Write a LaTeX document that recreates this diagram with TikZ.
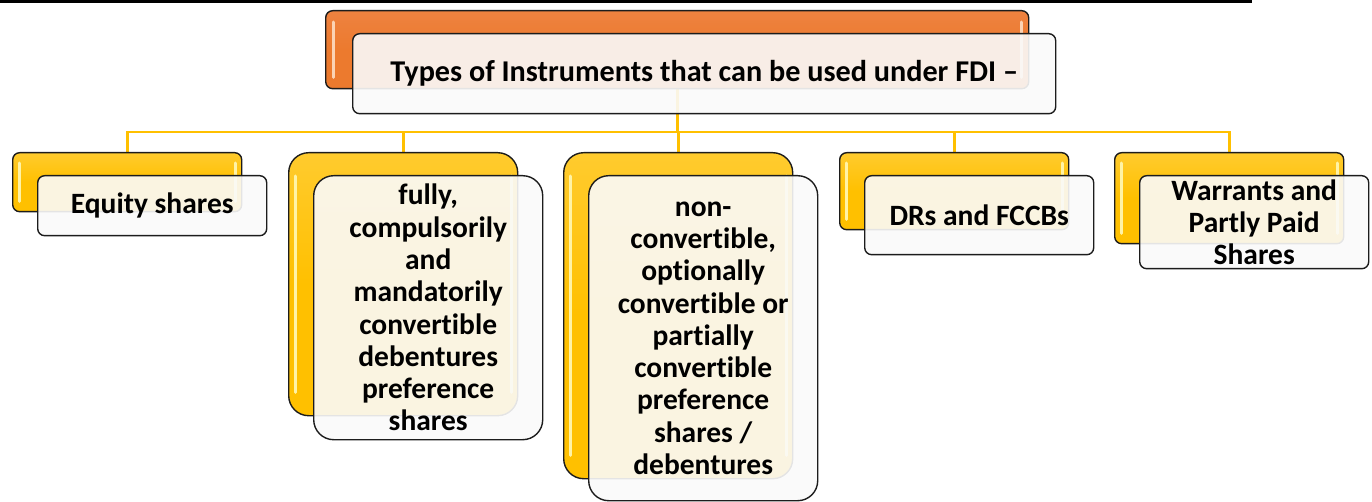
\documentclass[tikz,border=0pt]{standalone}
\usepackage{fontspec}
\setmainfont[Ligatures=NoCommon]{Carlito}
\definecolor{gold}{HTML}{FFC000}
\definecolor{goldtop}{HTML}{FFCB2E}
\definecolor{goldhl}{HTML}{FFF3A6}
\definecolor{orng}{HTML}{EC7A2E}
\definecolor{orngtop}{HTML}{EE8240}
\definecolor{ornghl}{HTML}{FBD3B4}
\definecolor{frontfill}{HTML}{FAFAFA}
\definecolor{edge}{HTML}{1C1C1C}
\pgfdeclarelayer{bg}
\pgfsetlayers{bg,main}
\begin{document}
\begin{tikzpicture}[x=1pt,y=-1pt,
  conn/.style={draw=gold, line width=2.6pt},
  boxbase/.style={draw=edge, line width=1.4pt, anchor=north west, inner sep=0pt, minimum width=229pt},
  yback/.style={boxbase, top color=goldtop, bottom color=gold, middle color=gold},
  oback/.style={boxbase, top color=orngtop, bottom color=orng, middle color=orng},
  front/.style={boxbase, fill=frontfill, fill opacity=0.9, text opacity=1, draw opacity=1,
    align=center, font=\fontsize{29.5}{32.3}\selectfont\bfseries},
  hl/.style={line width=3pt, line cap=round, draw=goldhl},
  ohl/.style={line width=3pt, line cap=round, draw=ornghl},
  small/.style={rounded corners=7pt},
  tall/.style={rounded corners=20pt}
]
\useasboundingbox (0,0) rectangle (1372,502);
% frame edge at top
\draw[line width=2.6pt] (-5,1.3) -- (1250.5,1.3) -- (1250.5,-5);

% title
\node[oback, small, minimum width=703pt, minimum height=78pt] (tb) at (325,10) {};
\draw[ohl] ([xshift=8pt,yshift=-12pt]tb.north west) -- ([xshift=8pt,yshift=12pt]tb.south west);
\draw[ohl] ([xshift=-8pt,yshift=-12pt]tb.north east) -- ([xshift=-8pt,yshift=12pt]tb.south east);
\node[front, small, minimum width=703pt, minimum height=80pt, font=\fontsize{30.2}{33}\selectfont\bfseries] (tf) at (352,33) {Types of Instruments that can be used under FDI --};

% children back boxes
\node[yback, small, minimum height=59pt] (b1) at (12,152) {};
\node[yback, tall, minimum height=263pt] (b2) at (288,152) {};
\node[yback, tall, minimum height=326pt] (b3) at (563,152) {};
\node[yback, small, minimum height=77pt] (b4) at (839,152) {};
\node[yback, small, minimum height=91pt] (b5) at (1114,152) {};
\foreach \b/\s in {b1/7,b2/20,b3/20,b4/7,b5/7}{
  \draw[hl] ([xshift=7pt,yshift=-\s pt-4pt]\b.north west) -- ([xshift=7pt,yshift=\s pt+4pt]\b.south west);
  \draw[hl] ([xshift=-7pt,yshift=-\s pt-4pt]\b.north east) -- ([xshift=-7pt,yshift=\s pt+4pt]\b.south east);
}

% children front boxes
\node[front, small, minimum height=60pt] (f1) at (37,175) {Equity shares};
\node[front, tall, minimum height=264pt] (f2) at (313,175) {fully,\\compulsorily\\and\\mandatorily\\convertible\\debentures\\preference\\shares};
\node[front, tall, minimum height=325pt] (f3) at (588,175) {non-\\convertible,\\optionally\\convertible or\\partially\\convertible\\preference\\shares /\\debentures};
\node[front, small, minimum height=79pt] (f4) at (864,175) {DRs and FCCBs};
\node[front, small, minimum height=93pt] (f5) at (1139,175) {Warrants and\\Partly Paid\\Shares};

% connectors
\begin{pgfonlayer}{bg}
\coordinate (bus) at (677,132);
\foreach \b in {b1,b2,b3,b4,b5}{
  \draw[conn] (tb.south) -- (tb.south |- bus) -| (\b.north);
}
\end{pgfonlayer}
\end{tikzpicture}
\end{document}
